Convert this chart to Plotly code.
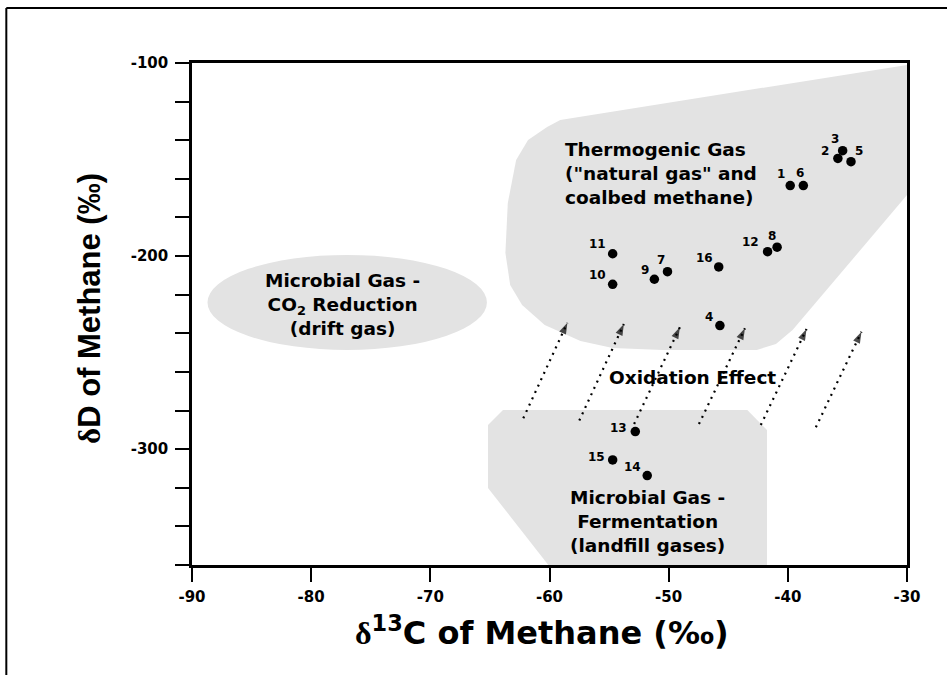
import plotly.graph_objects as go

# ---- data ----
sample_ids = ["1", "2", "3", "4", "5", "6", "7", "8", "9", "10", "11", "12", "13", "14", "15", "16"]
d13c = [-39.8, -35.8, -35.4, -45.7, -34.7, -38.7, -50.1, -40.9, -51.2, -54.7, -54.7, -41.7, -52.8, -51.8, -54.7, -45.8]
dD = [-163.5, -149.4, -145.4, -236.0, -151.1, -163.5, -208.1, -195.4, -212.0, -214.6, -198.8, -197.7, -290.9, -313.7, -305.6, -205.6]
# label pixel offsets (dx, dy) relative to points
label_dx = [-9, -13, -8, -11, 8, -3, -6, -5, -9, -15, -15, -17, -17, -15, -16, -14]
label_dy = [12, 7, 12, 9, 11, 13, 12, 11, 9, 9, 10, 10, 4, 9, 3, 9]

x_ticks = [-90, -80, -70, -60, -50, -40, -30]
y_ticks = [-100, -200, -300]

# region outlines (data coords)
thermo_x = [-59.1, -60.2, -61.8, -62.8, -63.5, -63.7, -63.3, -62.3, -60.4, -57.4, -54.7, -50.5, -42.6, -41.0, -39.6, -30.0, -30.0, -59.1]
thermo_y = [-129.5, -133.1, -139.9, -150.2, -172.5, -198.4, -215.0, -225.3, -235.7, -244.0, -247.6, -248.6, -248.6, -245.5, -238.3, -168.4, -101.0, -129.5]
ferm_x = [-63.9, -43.4, -41.75, -41.75, -60.1, -65.16, -65.16, -63.9]
ferm_y = [-279.7, -279.7, -290.1, -360.0, -360.0, -320.1, -287.5, -279.7]
co2_ellipse = [-88.7, -248.6, -65.25, -199.4]  # x0, y0, x1, y1

# oxidation arrows: tail -> head
arrow_tail_x = [-62.2, -57.5, -52.9, -47.46, -42.27, -37.65]
arrow_tail_y = [-284.0, -285.2, -287.0, -287.0, -287.5, -288.7]
arrow_head_x = [-58.5, -53.76, -49.06, -43.6, -38.43, -33.82]
arrow_head_y = [-234.5, -235.2, -236.9, -237.4, -237.8, -239.2]

GRAY = "#e3e3e3"
WIDE = "DejaVu Sans, Verdana, sans-serif"
ARIAL = "Liberation Sans, Arial, sans-serif"

fig = go.Figure()

fig.add_trace(go.Scatter(x=thermo_x, y=thermo_y, fill="toself", fillcolor=GRAY,
                         line=dict(width=0, color=GRAY), mode="lines", hoverinfo="skip", showlegend=False))
fig.add_trace(go.Scatter(x=ferm_x, y=ferm_y, fill="toself", fillcolor=GRAY,
                         line=dict(width=0, color=GRAY), mode="lines", hoverinfo="skip", showlegend=False))
fig.add_shape(type="circle", xref="x", yref="y", x0=co2_ellipse[0], y0=co2_ellipse[1],
              x1=co2_ellipse[2], y1=co2_ellipse[3], fillcolor=GRAY, line=dict(width=0), layer="below")

# arrows: dotted shaft + arrowhead marker oriented along the shaft
for tx, ty, hx, hy in zip(arrow_tail_x, arrow_tail_y, arrow_head_x, arrow_head_y):
    fig.add_trace(go.Scatter(x=[tx, hx], y=[ty, hy], mode="lines",
                             line=dict(color="black", width=2.2, dash="2px,5px"),
                             hoverinfo="skip", showlegend=False))
    fig.add_trace(go.Scatter(x=[tx, hx], y=[ty, hy], mode="markers",
                             marker=dict(symbol="arrow", size=[0, 12], color="black",
                                         angleref="previous", line=dict(width=0)),
                             hoverinfo="skip", showlegend=False))

fig.add_trace(go.Scatter(x=d13c, y=dD, mode="markers",
                         marker=dict(color="black", size=9.5), showlegend=False))

for sid, x, y, dx, dy in zip(sample_ids, d13c, dD, label_dx, label_dy):
    fig.add_annotation(x=x, y=y, xref="x", yref="y", text=f"<b>{sid}</b>", showarrow=False,
                       xshift=dx, yshift=dy, font=dict(family=WIDE, size=12, color="black"))

big = dict(family=WIDE, size=18.5, color="black")
fig.add_annotation(x=-58.87, y=-157.0, xref="x", yref="y", xanchor="left", yanchor="middle", align="left",
                   text="<b>Thermogenic Gas<br>(\"natural gas\" and<br>coalbed methane)</b>",
                   showarrow=False, font=big)
fig.add_annotation(x=-77.33, y=-225.3, xref="x", yref="y", xanchor="center", yanchor="middle", align="center",
                   text="<b>Microbial Gas -<br>CO<sub>2</sub> Reduction<br>(drift gas)</b>",
                   showarrow=False, font=big)
fig.add_annotation(x=-48.04, y=-263.1, xref="x", yref="y", xanchor="center", yanchor="middle",
                   text="<b>Oxidation Effect</b>", showarrow=False, font=big)
fig.add_annotation(x=-51.74, y=-337.7, xref="x", yref="y", xanchor="center", yanchor="middle", align="center",
                   text="<b>Microbial Gas -<br>Fermentation<br>(landfill gases)</b>",
                   showarrow=False, font=big)

# axis titles
fig.add_annotation(x=0.49, y=-0.1315, xref="paper", yref="paper", xanchor="center", yanchor="middle",
                   text="<b><span style=\"font-family:Liberation Serif\">δ</span><sup>13</sup>C of Methane (‰)</b>",
                   showarrow=False, font=dict(family=WIDE, size=32, color="black"))
fig.add_annotation(x=-0.1427, y=0.512, xref="paper", yref="paper", xanchor="center", yanchor="middle",
                   text="<b><span style=\"font-family:Liberation Serif\">δ</span>D of Methane (‰)</b>",
                   showarrow=False, font=dict(family=ARIAL, size=31, color="black"), textangle=-90)

# figure border (top and left)
fig.add_shape(type="line", xref="paper", yref="paper", x0=-0.2597, x1=1.06, y0=1.1096, y1=1.1096,
              line=dict(color="black", width=2))
fig.add_shape(type="line", xref="paper", yref="paper", x0=-0.2597, x1=-0.2597, y0=1.1096, y1=-0.23,
              line=dict(color="black", width=2))

axis_common = dict(showgrid=False, zeroline=False, showline=True, linecolor="black", linewidth=2.5,
                   mirror=True, ticks="outside", ticklen=14, tickwidth=2, tickcolor="black",
                   tickfont=dict(family=WIDE, size=15, color="black"))
fig.update_xaxes(range=[-90, -30], tickvals=x_ticks, ticktext=[f"<b>{v}</b>" for v in x_ticks],
                 ticklabelstandoff=2, **axis_common)
fig.update_yaxes(range=[-360, -100], tickvals=y_ticks, ticktext=[f"<b>{v}</b>" for v in y_ticks],
                 minor=dict(tick0=-100, dtick=20, ticks="outside", ticklen=14, tickwidth=2, tickcolor="black"),
                 ticklabelstandoff=4, **axis_common)

fig.update_layout(width=947, height=675, margin=dict(l=192, r=40, t=63, b=110, autoexpand=False),
                  plot_bgcolor="white", paper_bgcolor="white", showlegend=False)

fig.write_html("out.html", config={"displayModeBar": False},
               post_script="document.body.style.margin='0px';")
